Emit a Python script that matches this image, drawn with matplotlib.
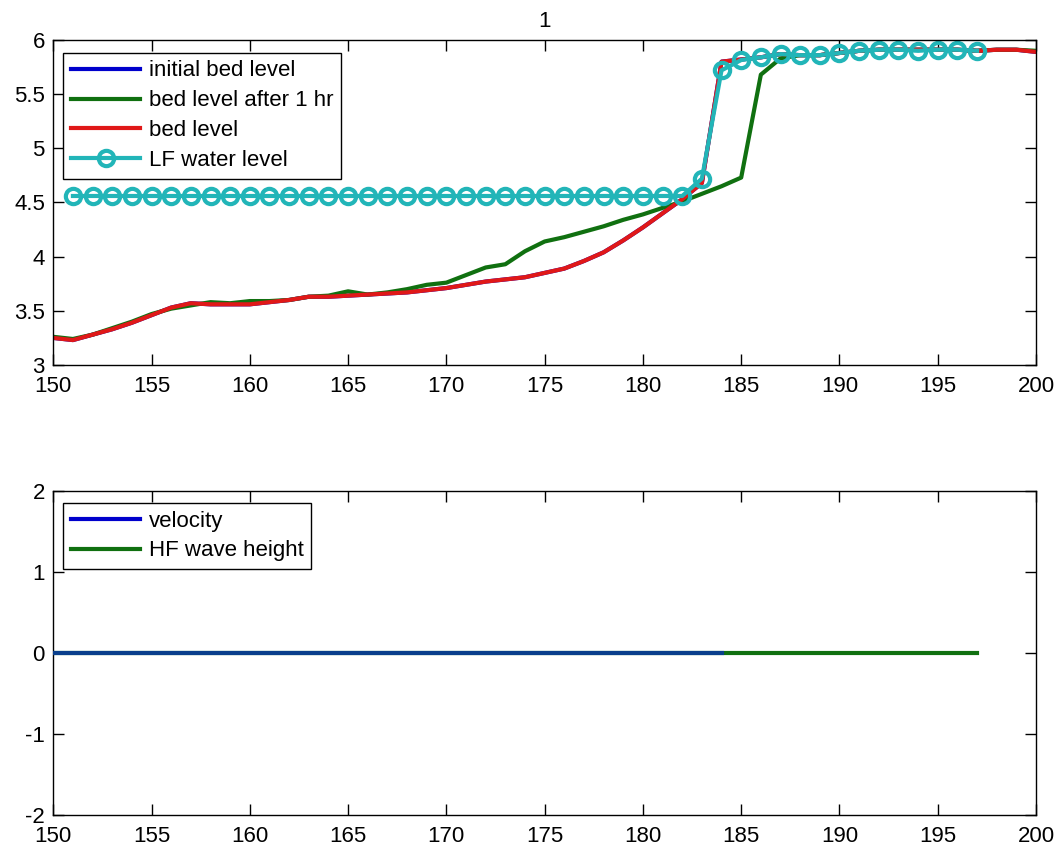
import numpy as np
import matplotlib
matplotlib.use("Agg")
import matplotlib.pyplot as plt

plt.rcParams['font.family'] = ['Liberation Sans', 'DejaVu Sans']
plt.rcParams['axes.unicode_minus'] = False

# cross-shore position (m)
x = np.arange(150, 201)

# bed level (initial = current at t=1)
bed_level = [3.25, 3.23, 3.28, 3.33, 3.39, 3.46, 3.53, 3.57, 3.56, 3.56,
             3.56, 3.58, 3.60, 3.63, 3.63, 3.64, 3.65, 3.66, 3.67, 3.69,
             3.71, 3.74, 3.77, 3.79, 3.81, 3.85, 3.89, 3.96, 4.04, 4.15,
             4.27, 4.40, 4.53, 4.68, 5.80, 5.82, 5.84, 5.87, 5.86, 5.86,
             5.88, 5.90, 5.91, 5.91, 5.91, 5.91, 5.91, 5.90, 5.91, 5.91,
             5.89]
initial_bed = list(bed_level)

bed_after_1hr = [3.26, 3.24, 3.28, 3.34, 3.40, 3.47, 3.52, 3.55, 3.58, 3.57,
                 3.59, 3.59, 3.60, 3.63, 3.64, 3.68, 3.65, 3.67, 3.70, 3.74,
                 3.76, 3.83, 3.90, 3.93, 4.05, 4.14, 4.18, 4.23, 4.28, 4.34,
                 4.39, 4.45, 4.51, 4.58, 4.65, 4.73, 5.68, 5.83, 5.86, 5.86,
                 5.88, 5.90, 5.91, 5.91, 5.91, 5.91, 5.91, 5.90, 5.91, 5.91,
                 5.90]

# LF water level, only where wet
wl_x = np.arange(151, 198)
lf_water = [4.56] * 32 + [4.72, 5.72, 5.815, 5.84, 5.87, 5.86, 5.86, 5.88,
                          5.90, 5.91, 5.91, 5.90, 5.91, 5.91, 5.90]

vel_x = np.arange(150, 185)
velocity = [0.0] * len(vel_x)
hf_x = np.arange(150, 198)
hf_wave_height = [0.0] * len(hf_x)

fig = plt.figure(figsize=(10.59, 8.49), dpi=100)
ax1 = fig.add_axes([0.0503, 0.5701, 0.928, 0.3828])
ax2 = fig.add_axes([0.0503, 0.0400, 0.928, 0.3816])

blue, green, red, cyan = '#0000cc', '#107010', '#e01818', '#22b5b8'

ax1.plot(x, initial_bed, color=blue, lw=3, label='initial bed level')
ax1.plot(x, bed_after_1hr, color=green, lw=3, label='bed level after 1 hr')
ax1.plot(x, bed_level, color=red, lw=3, label='bed level')
ax1.plot(wl_x, lf_water, color=cyan, lw=3, marker='o', ms=11, mew=3,
         mfc='none', label='LF water level')
ax1.set_xlim(150, 200)
ax1.set_ylim(3, 6)
ax1.set_yticks(np.arange(3, 6.01, 0.5))
ax1.set_yticklabels(['3', '3.5', '4', '4.5', '5', '5.5', '6'])
ax1.set_title('1', fontsize=16, pad=9)

ax2.plot(hf_x, hf_wave_height, color=green, lw=3, label='HF wave height', zorder=2)
ax2.plot(vel_x, velocity, color='#0a3f8c', lw=3, label='velocity', zorder=3)
ax2.set_xlim(150, 200)
ax2.set_ylim(-2, 2)
ax2.set_yticks([-2, -1, 0, 1, 2])

for ax in (ax1, ax2):
    ax.set_xticks(np.arange(150, 201, 5))
    ax.tick_params(direction='in', length=8, width=1, labelsize=16,
                   top=True, right=True)
    ax.tick_params(axis='x', pad=8)
    ax.tick_params(axis='y', pad=6)
    for s in ax.spines.values():
        s.set_color('black')
        s.set_linewidth(1)

leg_kw = dict(loc='upper left', fontsize=16, frameon=True, fancybox=False,
              edgecolor='black', framealpha=1, borderpad=0.35,
              handlelength=3.1, handletextpad=0.4, labelspacing=0.4,
              borderaxespad=0)
l1 = ax1.legend(bbox_to_anchor=(0.0102, 0.961), **leg_kw)
h, lab = ax2.get_legend_handles_labels()
l2 = ax2.legend(h[::-1], lab[::-1], bbox_to_anchor=(0.0099, 0.964), **leg_kw)
l2.get_lines()[0].set_color(blue)
for l in (l1, l2):
    l.get_frame().set_linewidth(1)

fig.savefig('out.png', dpi=100)
